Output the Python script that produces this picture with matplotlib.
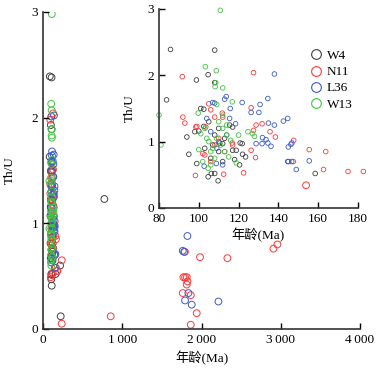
import numpy as np
import matplotlib
matplotlib.use("Agg")
import matplotlib.pyplot as plt
from matplotlib.lines import Line2D

plt.rcParams['font.family'] = ['Liberation Serif', 'Noto Sans CJK SC', 'DejaVu Sans']
plt.rcParams['font.size'] = 9.5

# Th/U vs age (Ma) for each sample
w4_age = [85.8, 108, 98.8, 104.7, 108, 83.8, 101, 102.5, 102.5, 98, 100, 94, 95, 99,
          104.7, 108, 106.3, 109.7, 115.5, 117, 120.8, 121.8, 122, 123.5, 118, 120.5,
          110.5, 112, 117, 118.8, 158.5, 105, 108, 110, 106, 112, 103, 107, 113, 110,
          774, 223, 215]
w4_thu = [2.39, 2.38, 1.93, 2.01, 1.89, 1.63, 1.50, 1.49, 1.23, 1.15, 1.16, 1.07, 0.81, 0.67,
          0.47, 0.52, 0.52, 0.41, 1.25, 1.22, 0.98, 0.97, 0.81, 0.77, 0.73, 0.65,
          0.98, 0.97, 0.87, 0.87, 0.52, 1.30, 1.10, 0.85, 0.75, 0.70, 0.90, 0.95, 1.05, 1.20,
          1.23, 0.12, 0.60]

n11_age = [91.7, 127.5, 105, 106, 108, 92, 93, 99, 98.5, 103.5, 126.3, 111.8, 112, 128.8,
           131.8, 135.8, 138.5, 127.5, 126.3, 128.5, 122.5, 112.5, 98.3, 116.8, 117, 102,
           103, 147.7, 155.5, 163.8, 147.5, 162.7, 175, 182.7, 108, 110, 106, 113,
           3319, 854, 236, 236, 1790, 1981, 2326, 2907, 2957, 1771, 1792, 1813, 1822,
           1813, 1763, 1864, 1939, 1864]
n11_thu = [1.98, 2.04, 1.57, 1.48, 1.37, 1.37, 1.28, 1.23, 1.22, 1.22, 1.51, 1.43, 1.37, 1.25,
           1.27, 1.15, 1.07, 1.17, 0.87, 0.76, 0.53, 0.51, 0.49, 0.98, 0.95, 0.82,
           0.80, 1.02, 0.88, 0.85, 0.70, 0.58, 0.55, 0.55, 0.95, 1.05, 0.70, 0.85,
           1.36, 0.12, 0.05, 0.65, 0.73, 0.68, 0.67, 0.76, 0.80, 0.49, 0.49, 0.49, 0.45,
           0.42, 0.34, 0.32, 0.15, 0.04]

l36_age = [107, 108, 138, 113, 113.8, 121.8, 134.7, 130.8, 115.8, 126.3, 130.2, 135, 138,
           142.5, 144.7, 132, 133.8, 134.7, 128.8, 131.8, 136.3, 144.7, 145, 146.3, 146.8,
           145, 146.7, 155.5, 149, 115.5, 118.5, 102.7, 112, 108.8, 106, 110, 104, 109, 114,
           1822, 1763, 1780, 1834, 1792, 1876, 2213]
l36_thu = [1.59, 1.58, 2.02, 1.64, 1.68, 1.59, 1.65, 1.56, 1.50, 1.44, 1.44, 1.28, 1.25,
           1.31, 1.35, 1.06, 1.03, 0.98, 0.97, 0.97, 0.93, 0.70, 0.92, 0.96, 0.98,
           0.70, 0.70, 0.71, 0.58, 1.35, 1.27, 0.63, 0.65, 0.67, 1.15, 1.00, 1.35, 0.90, 1.10,
           0.88, 0.74, 0.73, 0.34, 0.27, 0.23, 0.26]

w13_age = [110.8, 103.3, 108.8, 108.5, 108.2, 112, 109, 116.8, 80, 99.7, 81, 101, 124.7,
           127, 128, 118.8, 115, 104.7, 106, 105, 107, 109, 111, 113, 103, 110, 112, 114,
           108, 106, 104, 116, 120, 100, 102, 112, 114]
w13_thu = [2.98, 2.13, 2.07, 1.89, 1.83, 1.81, 1.56, 1.60, 1.40, 1.43, 0.95, 1.12, 1.15,
           1.12, 1.08, 0.68, 0.77, 0.60, 0.65, 1.00, 0.90, 1.05, 0.95, 0.85, 1.20, 1.30, 1.20, 1.10,
           0.75, 0.85, 1.05, 1.02, 1.10, 0.88, 0.70, 1.40, 1.25]

samples = ["W4", "N11", "L36", "W13"]
ages = [w4_age, n11_age, l36_age, w13_age]
ratios = [w4_thu, n11_thu, l36_thu, w13_thu]
colors = ["#404040", "#ff3838", "#3c5cc8", "#44c444"]

fig = plt.figure(figsize=(3.79, 3.73), dpi=100)

# main panel
ax = fig.add_axes([0.1135, 0.118, 0.8365, 0.85])
for a, r, c in zip(ages, ratios, colors):
    ax.scatter(a, r, s=24, facecolors="none", edgecolors=c, linewidths=0.7)
ax.set_xlim(0, 4000)
ax.set_ylim(0, 3)
ax.set_xticks([0, 1000, 2000, 3000, 4000])
ax.set_xticklabels(["0", "1\u2009000", "2\u2009000", "3\u2009000", "4\u2009000"])
ax.set_yticks([0, 1, 2, 3])
ax.spines["top"].set_visible(False)
ax.spines["right"].set_visible(False)
for s in ["left", "bottom"]:
    ax.spines[s].set_linewidth(1.2)
    ax.spines[s].set_color("#333333")
ax.tick_params(direction="in", length=4, width=1)
ax.set_xlabel("年龄(Ma)", labelpad=4)
ax.set_ylabel("Th/U", labelpad=11)

# inset, zoom on 80-180 Ma
ins = fig.add_axes([0.4195, 0.4424, 0.525, 0.5335])
ins.patch.set_visible(False)
for a, r, c in zip(ages, ratios, colors):
    ins.scatter(a, r, s=11, facecolors="none", edgecolors=c, linewidths=0.6, clip_on=False)
ins.set_xlim(80, 180)
ins.set_ylim(0, 3)
ins.set_xticks([80, 100, 120, 140, 160, 180])
ins.set_yticks([0, 1, 2, 3])
ins.spines["top"].set_visible(False)
ins.spines["right"].set_visible(False)
for s in ["left", "bottom"]:
    ins.spines[s].set_linewidth(1.2)
    ins.spines[s].set_color("#333333")
ins.tick_params(direction="in", length=4, width=1)
ins.set_xlabel("年龄(Ma)", labelpad=2)
ins.set_ylabel("Th/U", labelpad=8)

handles = [Line2D([], [], marker="o", ls="none", mfc="none", mec=c, ms=7, mew=0.8)
           for c in colors]
ins.legend(handles, samples, loc="upper left", bbox_to_anchor=(0.69, 0.855),
           frameon=False, handletextpad=0.2, labelspacing=0.3,
           handlelength=1.2)

fig.savefig("out.png", dpi=100)
